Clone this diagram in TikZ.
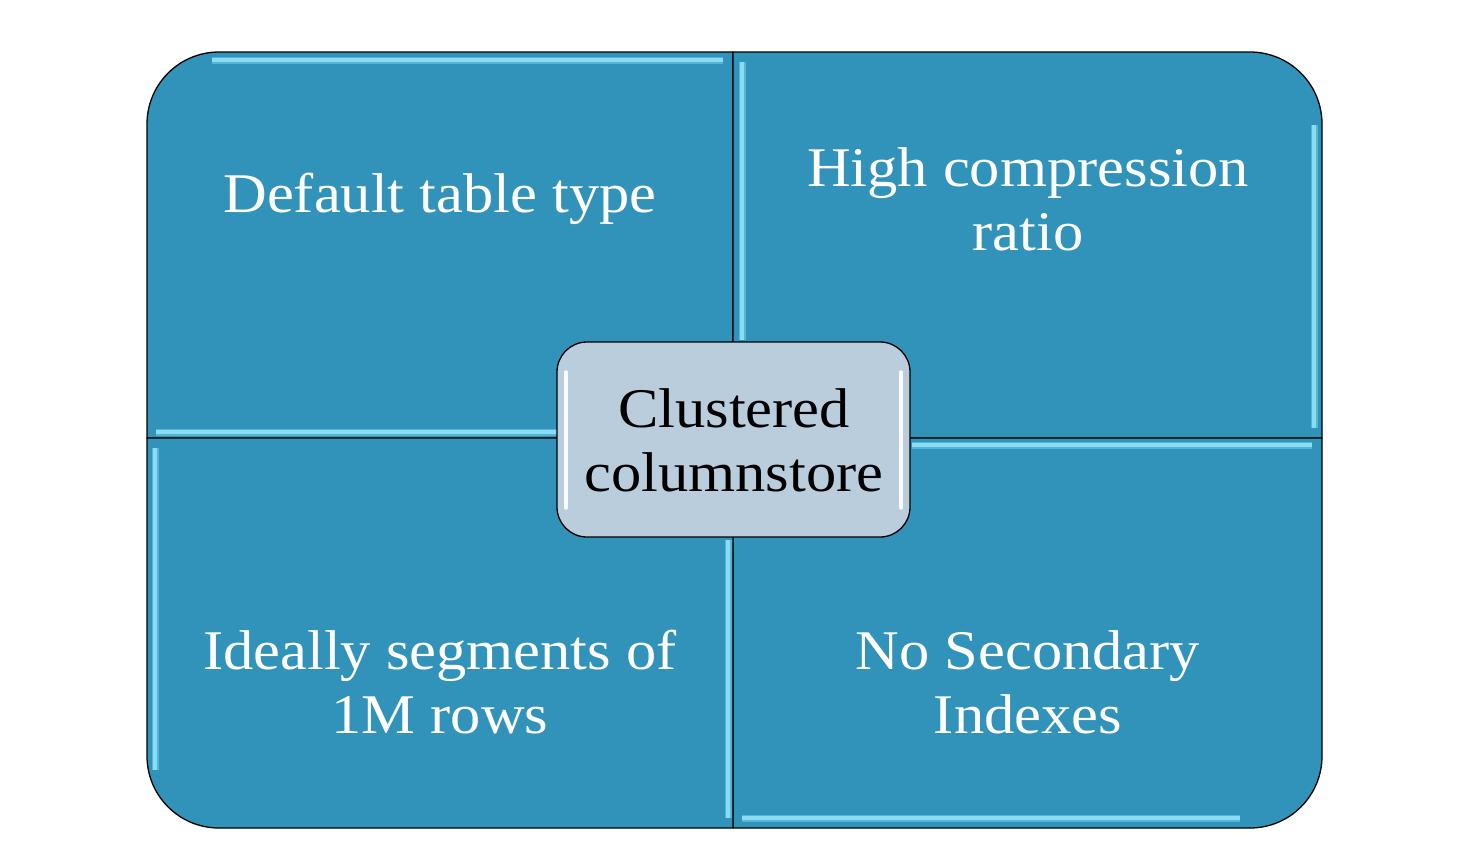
\documentclass[tikz,border=0pt]{standalone}
\usepackage{fontspec}
\setmainfont[FakeStretch=1.08]{Liberation Serif}
\definecolor{quad}{HTML}{3193BA}
\definecolor{hilite}{HTML}{8ADCF3}
\definecolor{hiliteb}{HTML}{55B5D6}
\definecolor{centerfill}{HTML}{B9CDDD}
\tikzset{
  quadbox/.style={fill=quad, draw=black, line width=1.3pt},
  glow/.style={draw=hiliteb, line width=7pt, line cap=butt},
  glowtop/.style={draw=hilite, line width=4pt, line cap=butt},
  quadtext/.style={text=white, font=\fontsize{56}{64}\selectfont, align=center},
  centertext/.style={text=black, font=\fontsize{56}{64}\selectfont, align=center}
}
\begin{document}
\begin{tikzpicture}[x=1pt,y=-1pt]
\useasboundingbox (0,0) rectangle (1462,860);
\fill[white] (0,0) rectangle (1462,860);
% quadrants
\path[quadbox] (733,438) -- (147,438) -- (147,124) arc[start angle=180,end angle=270,radius=72] -- (733,52) -- cycle;
\path[quadbox] (733,52) -- (1250,52) arc[start angle=270,end angle=360,radius=72] -- (1322,438) -- (733,438) -- cycle;
\path[quadbox] (1322,438) -- (1322,756) arc[start angle=0,end angle=90,radius=72] -- (733,828) -- (733,438) -- cycle;
\path[quadbox] (733,828) -- (219,828) arc[start angle=90,end angle=180,radius=72] -- (147,438) -- (733,438) -- cycle;
% highlights
\foreach \a/\b in {
  {(212,60)}/{(723,60)},
  {(156,432)}/{(723,432)},
  {(742,62)}/{(742,340)},
  {(1314,125)}/{(1314,428)},
  {(155,448)}/{(155,770)},
  {(728,540)}/{(728,818)},
  {(912,445)}/{(1312,445)},
  {(742,818)}/{(1240,818)}} {
  \draw[glow] \a -- \b;
  \draw[glowtop] \a -- \b;
}
% texts
\node[quadtext] (tl) at (440,199) {Default table type};
\node[quadtext] (tr) at (1028,199) {High compression\\ratio};
\node[quadtext] (bl) at (440,682) {Ideally segments of\\1M rows};
\node[quadtext] (br) at (1028,682) {No Secondary\\Indexes};
% center
\draw[fill=centerfill, draw=black, line width=1.3pt, rounded corners=30pt] (557,342) rectangle (910,537);
\draw[white, line width=3.5pt, line cap=round, opacity=0.9] (566,372) -- (566,508);
\draw[white, line width=3.5pt, line cap=round, opacity=0.9] (901,372) -- (901,508);
\node[centertext] (c) at (734,440) {Clustered\\columnstore};
\end{tikzpicture}
\end{document}
